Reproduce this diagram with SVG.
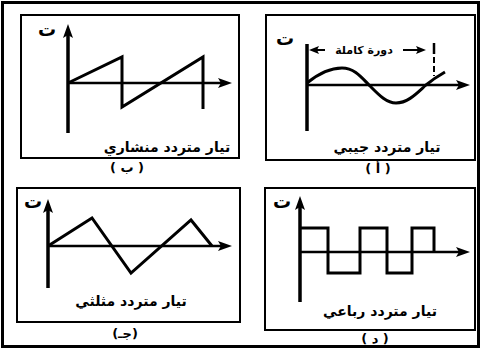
<svg xmlns="http://www.w3.org/2000/svg" width="480" height="350" viewBox="0 0 480 350">
<style>
.frame{fill:none;stroke:#000;stroke-width:2}
.outer{fill:none;stroke:#000;stroke-width:3}
.axis{fill:none;stroke:#000;stroke-width:2.5}
.yaxis{fill:none;stroke:#000;stroke-width:3.5}
.wave{fill:none;stroke:#000;stroke-width:3;stroke-linejoin:miter}
.lbl{font-family:"DejaVu Sans",sans-serif;font-weight:bold;font-size:14px;fill:#000;text-anchor:middle}
.cap{font-family:"DejaVu Sans",sans-serif;font-weight:bold;font-size:13px;fill:#000;text-anchor:middle}
.t{font-family:"DejaVu Sans",sans-serif;font-weight:bold;font-size:18px;fill:#000;text-anchor:middle}
.dim{font-family:"DejaVu Sans",sans-serif;font-weight:bold;font-size:11px;fill:#000;text-anchor:middle}
</style>
<defs>
<marker id="ah" viewBox="0 0 14 10" refX="3" refY="5" markerWidth="14" markerHeight="10" markerUnits="userSpaceOnUse" orient="auto">
<path d="M0,0 L14,5 L0,10 L3,5 Z" fill="#000"/>
</marker>
<marker id="dh" viewBox="0 0 10 8" refX="2" refY="4" markerWidth="10" markerHeight="8" markerUnits="userSpaceOnUse" orient="auto">
<path d="M0,0 L10,4 L0,8 L2,4 Z" fill="#000"/>
</marker>
</defs>
<rect width="480" height="350" fill="#fff"/>
<rect class="outer" x="2.5" y="2.5" width="476" height="344"/>

<g id="panel-b">
<rect class="frame" x="21" y="15" width="218" height="143"/>
<line class="yaxis" x1="68" y1="133" x2="68" y2="35" marker-end="url(#ah)"/>
<line class="axis" x1="68" y1="83" x2="221" y2="83" marker-end="url(#ah)"/>
<polyline class="wave" points="68,83 122,57 122,107 203,57 203,109"/>
<text class="t" x="47" y="36">ت</text>
<text class="lbl" x="167" y="152">تيار متردد منشاري</text>
<text class="cap" x="127" y="172">( ب )</text>
</g>

<g id="panel-a">
<rect class="frame" x="266" y="15" width="209" height="145"/>
<line class="yaxis" x1="307" y1="131" x2="307" y2="44"/>
<line class="axis" x1="307" y1="85" x2="459" y2="85" marker-end="url(#ah)"/>
<path class="wave" d="M307,83 C318,74 330,68 342,68 C355,68 362,78 370,86 C378,94 386,103 396,103 C408,103 417,93 426,85 C432,80 438,76 445,72"/>
<line stroke="#000" stroke-width="2" x1="325" y1="50" x2="317" y2="50" marker-end="url(#dh)"/>
<line stroke="#000" stroke-width="2" x1="403" y1="50" x2="418" y2="50" marker-end="url(#dh)"/>
<line stroke="#000" stroke-width="2.5" x1="434" y1="43" x2="434" y2="54"/>
<line stroke="#000" stroke-width="2" stroke-dasharray="6,3" x1="434" y1="57" x2="434" y2="76"/>
<text class="dim" x="364" y="54">دورة كاملة</text>
<text class="t" x="285" y="45">ت</text>
<text class="lbl" x="387" y="152">تيار متردد جيبي</text>
<text class="cap" x="378" y="173">( أ )</text>
</g>

<g id="panel-c">
<rect class="frame" x="17" y="188" width="223" height="134"/>
<line class="yaxis" x1="48" y1="288" x2="48" y2="210" marker-end="url(#ah)"/>
<line class="axis" x1="48" y1="246" x2="221" y2="246" marker-end="url(#ah)"/>
<polyline class="wave" points="48,246 92,218 131,273 191,220 212,246"/>
<text class="t" x="33" y="208">ت</text>
<text class="lbl" x="131" y="306">تيار متردد مثلثي</text>
<text class="cap" x="125" y="338">(جـ)</text>
</g>

<g id="panel-d">
<rect class="frame" x="265" y="188" width="210" height="142"/>
<line class="yaxis" x1="300" y1="302" x2="300" y2="207" marker-end="url(#ah)"/>
<line class="axis" x1="300" y1="252" x2="459" y2="252" marker-end="url(#ah)"/>
<polyline class="wave" points="300,228 328,228 328,273 360,273 360,228 387,228 387,273 412,273 412,228 434,228 434,252"/>
<text class="t" x="282" y="208">ت</text>
<text class="lbl" x="380" y="316">تيار متردد رباعي</text>
<text class="cap" x="375" y="343">( د )</text>
</g>
</svg>
